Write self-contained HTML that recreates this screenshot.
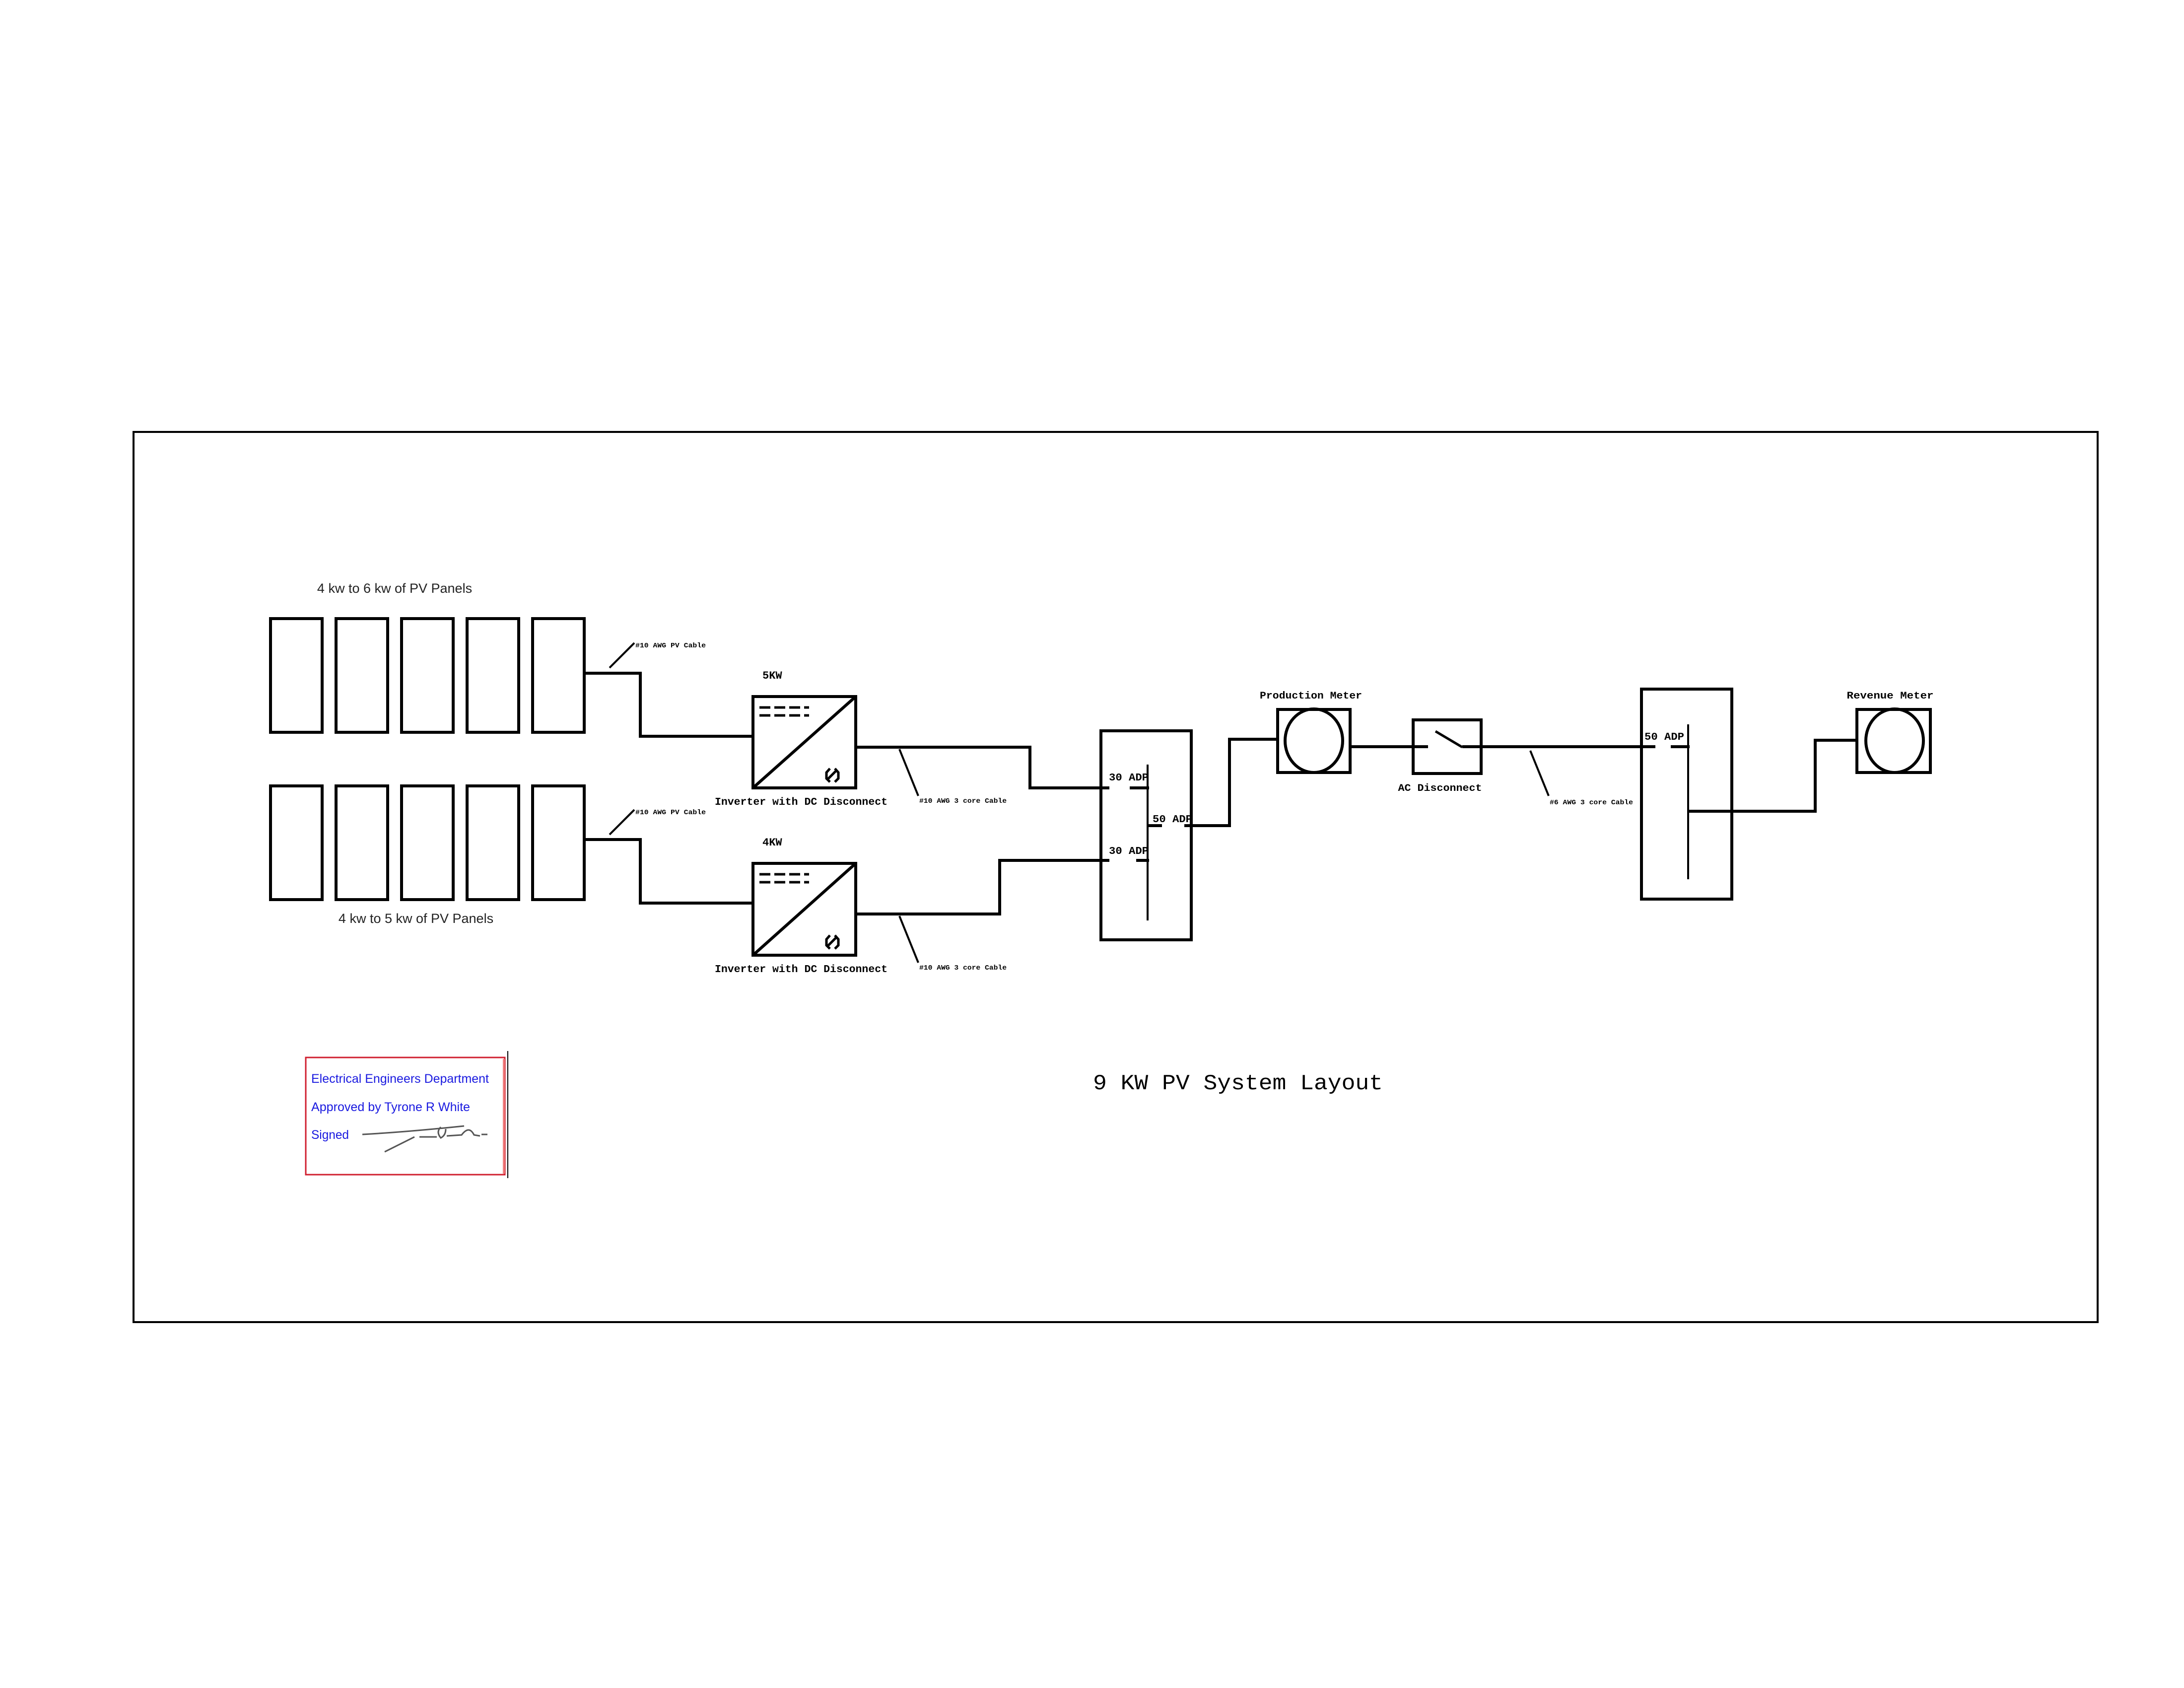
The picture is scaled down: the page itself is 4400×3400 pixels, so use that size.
<!DOCTYPE html>
<html><head><meta charset="utf-8"><style>
html,body{margin:0;padding:0;background:#fff}
svg{display:block}
.m{font-family:"Liberation Mono",monospace;font-weight:bold;fill:#000}
.s{font-family:"Liberation Sans",sans-serif;fill:#222}
.b{font-family:"Liberation Sans",sans-serif;fill:#1a1ae0;font-size:25px}
</style></head><body>
<svg width="4400" height="3400" viewBox="0 0 4400 3400" xmlns="http://www.w3.org/2000/svg">
<rect width="4400" height="3400" fill="#fff"/>
<rect x="269" y="870" width="3957" height="1793" fill="none" stroke="#000" stroke-width="4"/>
<g fill="none" stroke="#000" stroke-width="6">
<rect x="545" y="1246" width="104" height="229"/><rect x="677" y="1246" width="104" height="229"/><rect x="809" y="1246" width="104" height="229"/><rect x="941" y="1246" width="104" height="229"/><rect x="1073" y="1246" width="104" height="229"/>
<rect x="545" y="1583" width="104" height="229"/><rect x="677" y="1583" width="104" height="229"/><rect x="809" y="1583" width="104" height="229"/><rect x="941" y="1583" width="104" height="229"/><rect x="1073" y="1583" width="104" height="229"/>
<polyline points="1177,1356 1290,1356 1290,1483 1517,1483"/>
<polyline points="1177,1691 1290,1691 1290,1819 1517,1819"/>
<rect x="1517" y="1403" width="207" height="184"/>
<line x1="1517" y1="1587" x2="1724" y2="1403"/>
<rect x="1517" y="1739" width="207" height="185"/>
<line x1="1517" y1="1924" x2="1724" y2="1739"/>
<polyline points="1724,1505 2075,1505 2075,1587 2235,1587"/>
<polyline points="1724,1841 2014,1841 2014,1733 2235,1733"/>
<rect x="2218" y="1472" width="182" height="421"/>
<line x1="2312" y1="1540" x2="2312" y2="1854" stroke-width="4"/>
<line x1="2276" y1="1587" x2="2315" y2="1587"/>
<line x1="2289" y1="1733" x2="2315" y2="1733"/>
<line x1="2312" y1="1663" x2="2341" y2="1663"/>
<polyline points="2386,1663 2477,1663 2477,1489 2574,1489"/>
<rect x="2574" y="1429" width="146" height="127"/>
<ellipse cx="2647" cy="1492" rx="58" ry="64"/>
<line x1="2720" y1="1504" x2="2877" y2="1504"/>
<rect x="2847" y="1450" width="137" height="108"/>
<line x1="2892" y1="1473" x2="2946" y2="1505" stroke-width="5"/>
<line x1="2946" y1="1504" x2="3335" y2="1504"/>
<rect x="3307" y="1388" width="182" height="423"/>
<line x1="3401" y1="1459" x2="3401" y2="1771" stroke-width="4"/>
<line x1="3366" y1="1504" x2="3404" y2="1504"/>
<polyline points="3401,1634 3657,1634 3657,1491 3741,1491"/>
<rect x="3741" y="1429" width="148" height="127"/>
<ellipse cx="3817" cy="1492" rx="58" ry="64"/>
</g>
<g stroke="#000" stroke-width="4">
<line x1="1228" y1="1345" x2="1278" y2="1295"/>
<line x1="1228" y1="1681" x2="1278" y2="1631"/>
<line x1="1812" y1="1509" x2="1850" y2="1603"/>
<line x1="1812" y1="1845" x2="1850" y2="1939"/>
<line x1="3083" y1="1512" x2="3120" y2="1603"/>
</g>
<g stroke="#000" stroke-width="5" fill="none">
<path d="M1530 1425h100M1530 1441h100" stroke-dasharray="22,8"/>
<path d="M1530 1761h100M1530 1777h100" stroke-dasharray="22,8"/>
<path d="M1672 1548l-7 8v12l7 7M1682 1548l7 8v12l-7 7M1667 1570l20 -20"/>
<path d="M1672 1884l-7 8v12l7 7M1682 1884l7 8v12l-7 7M1667 1906l20 -20"/>
</g>
<text class="s" x="795" y="1194" font-size="27" text-anchor="middle">4 kw to 6 kw of PV Panels</text>
<text class="s" x="838" y="1859" font-size="27" text-anchor="middle">4 kw to 5 kw of PV Panels</text>
<text class="m" x="1280" y="1304" font-size="14" textLength="142" lengthAdjust="spacingAndGlyphs">#10 AWG PV Cable</text>
<text class="m" x="1280" y="1640" font-size="14" textLength="142" lengthAdjust="spacingAndGlyphs">#10 AWG PV Cable</text>
<text class="m" x="1536" y="1367" font-size="22">5KW</text>
<text class="m" x="1536" y="1703" font-size="22">4KW</text>
<text class="m" x="1440" y="1621" font-size="21" textLength="348" lengthAdjust="spacingAndGlyphs">Inverter with DC Disconnect</text>
<text class="m" x="1440" y="1958" font-size="21" textLength="348" lengthAdjust="spacingAndGlyphs">Inverter with DC Disconnect</text>
<text class="m" x="1852" y="1617" font-size="14" textLength="176" lengthAdjust="spacingAndGlyphs">#10 AWG 3 core Cable</text>
<text class="m" x="1852" y="1953" font-size="14" textLength="176" lengthAdjust="spacingAndGlyphs">#10 AWG 3 core Cable</text>
<text class="m" x="2234" y="1572" font-size="21" textLength="80" lengthAdjust="spacingAndGlyphs">30 ADP</text>
<text class="m" x="2234" y="1720" font-size="21" textLength="80" lengthAdjust="spacingAndGlyphs">30 ADP</text>
<text class="m" x="2322" y="1656" font-size="21" textLength="80" lengthAdjust="spacingAndGlyphs">50 ADP</text>
<text class="m" x="3313" y="1490" font-size="21" textLength="80" lengthAdjust="spacingAndGlyphs">50 ADP</text>
<text class="m" x="2641" y="1407" font-size="20" text-anchor="middle" textLength="206" lengthAdjust="spacingAndGlyphs">Production Meter</text>
<text class="m" x="3808" y="1407" font-size="20" text-anchor="middle" textLength="175" lengthAdjust="spacingAndGlyphs">Revenue Meter</text>
<text class="m" x="2901" y="1593" font-size="20" text-anchor="middle" textLength="169" lengthAdjust="spacingAndGlyphs">AC Disconnect</text>
<text class="m" x="3122" y="1620" font-size="14" textLength="168" lengthAdjust="spacingAndGlyphs">#6 AWG 3 core Cable</text>
<text x="2494" y="2194" font-family="Liberation Mono,monospace" font-size="44" text-anchor="middle" textLength="584" lengthAdjust="spacingAndGlyphs">9 KW PV System Layout</text>
<rect x="616" y="2130" width="401" height="236" fill="#fff" stroke="#d02030" stroke-width="3"/>
<line x1="1015" y1="2133" x2="1015" y2="2364" stroke="#f08080" stroke-width="4"/>
<line x1="1023" y1="2117" x2="1023" y2="2373" stroke="#000" stroke-width="2"/>
<text class="b" x="627" y="2181" textLength="358" lengthAdjust="spacingAndGlyphs">Electrical Engineers Department</text>
<text class="b" x="627" y="2238" textLength="320" lengthAdjust="spacingAndGlyphs">Approved by Tyrone R White</text>
<text class="b" x="627" y="2294" textLength="76" lengthAdjust="spacingAndGlyphs">Signed</text>
<g stroke="#555" stroke-width="3" fill="none">
<path d="M730 2285 Q820 2280 935 2268"/>
<path d="M775 2320 L835 2290"/>
<path d="M845 2290 L880 2290 M888 2270 q-10 10 0 22 q10 -5 10 -18 M900 2288 l30 -2 q15 -20 25 0 l12 2 M970 2285 l12 0"/>
</g>
</svg>
</body></html>
